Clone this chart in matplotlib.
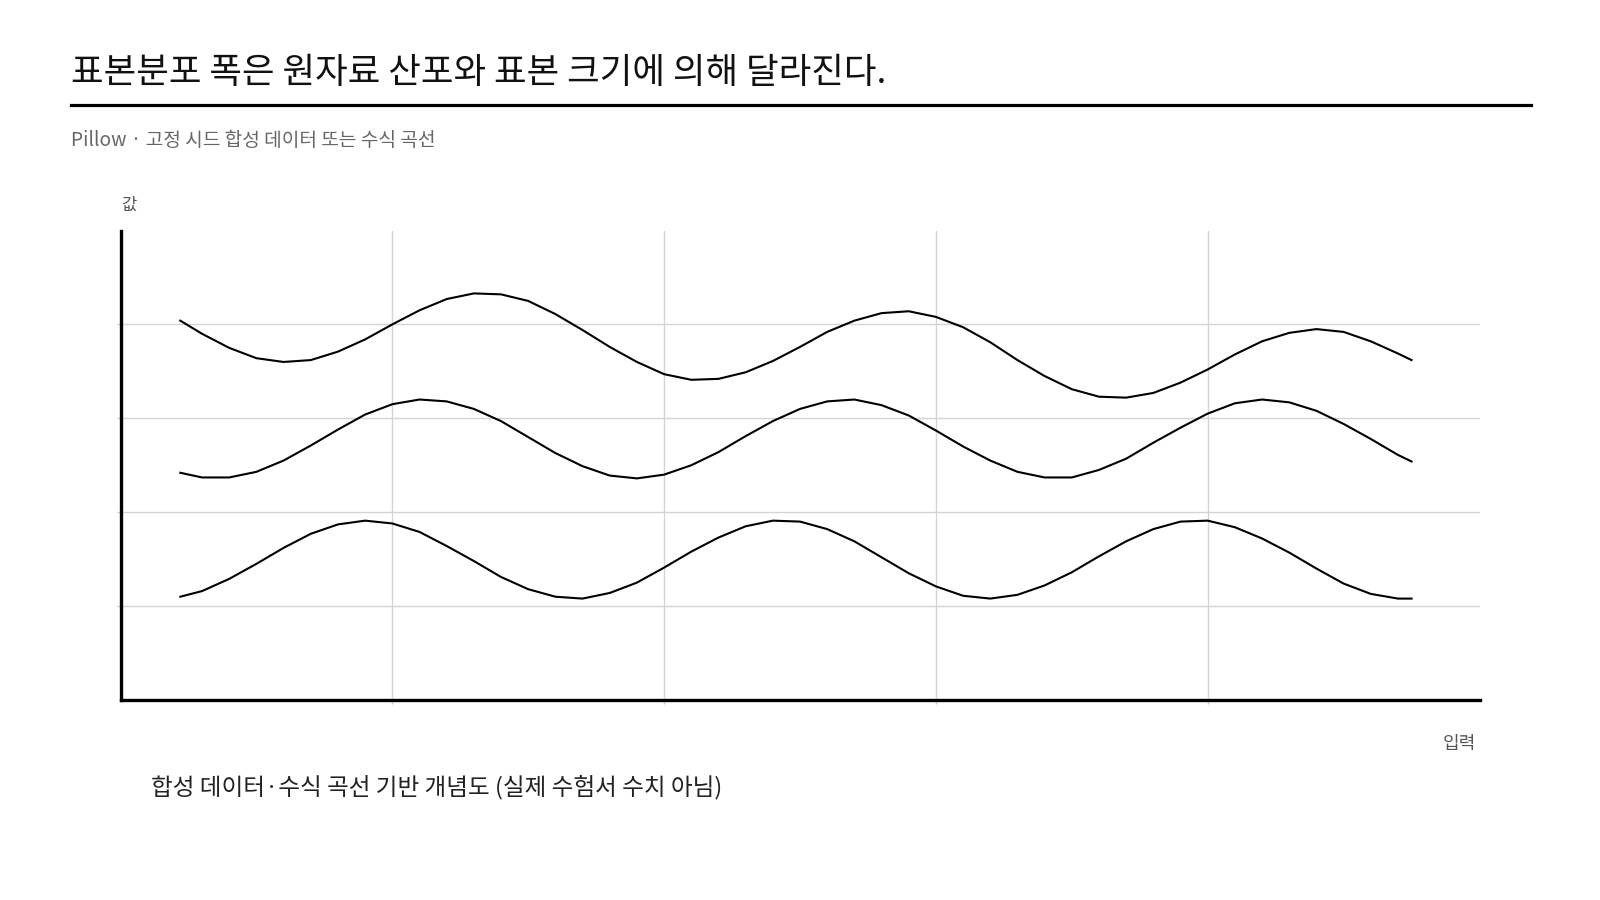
import matplotlib
matplotlib.use('Agg')
from matplotlib import pyplot as plt
from matplotlib.lines import Line2D

plt.rcParams['font.family'] = ['Noto Sans CJK KR', 'DejaVu Sans']

title = '표본분포 폭은 원자료 산포와 표본 크기에 의해 달라진다.'
subtitle = 'Pillow · 고정 시드 합성 데이터 또는 수식 곡선'
y_label = '값'
x_label = '입력'
caption = '합성 데이터·수식 곡선 기반 개념도 (실제 수험서 수치 아님)'

x_vals = [0.22, 0.3, 0.4, 0.5, 0.6, 0.7, 0.8, 0.9, 1.0, 1.1, 1.2, 1.3, 1.4, 1.5, 1.6,
          1.7, 1.8, 1.9, 2.0, 2.1, 2.2, 2.3, 2.4, 2.5, 2.6, 2.7, 2.8, 2.9, 3.0, 3.1,
          3.2, 3.3, 3.4, 3.5, 3.6, 3.7, 3.8, 3.9, 4.0, 4.1, 4.2, 4.3, 4.4, 4.5, 4.6,
          4.7, 4.75]

top_curve = [4.04, 3.90, 3.75, 3.64, 3.60, 3.62, 3.71, 3.84, 4.00, 4.15, 4.27, 4.33,
             4.32, 4.25, 4.11, 3.94, 3.76, 3.60, 3.47, 3.41, 3.42, 3.49, 3.61, 3.76,
             3.92, 4.04, 4.12, 4.14, 4.08, 3.97, 3.81, 3.62, 3.45, 3.31, 3.23, 3.22,
             3.27, 3.38, 3.52, 3.68, 3.82, 3.91, 3.95, 3.92, 3.82, 3.69, 3.62]

mid_curve = [2.42, 2.37, 2.37, 2.43, 2.55, 2.71, 2.88, 3.04, 3.15, 3.20, 3.18, 3.10,
             2.97, 2.80, 2.63, 2.49, 2.39, 2.36, 2.40, 2.50, 2.64, 2.81, 2.97, 3.10,
             3.18, 3.20, 3.14, 3.03, 2.87, 2.70, 2.55, 2.43, 2.37, 2.37, 2.45, 2.57,
             2.74, 2.90, 3.05, 3.16, 3.20, 3.17, 3.08, 2.94, 2.78, 2.61, 2.54]

low_curve = [1.10, 1.16, 1.29, 1.45, 1.62, 1.77, 1.87, 1.91, 1.88, 1.79, 1.64, 1.48,
             1.31, 1.18, 1.10, 1.08, 1.14, 1.25, 1.41, 1.58, 1.73, 1.85, 1.91, 1.90,
             1.82, 1.69, 1.52, 1.35, 1.21, 1.11, 1.08, 1.12, 1.22, 1.36, 1.53, 1.69,
             1.82, 1.90, 1.91, 1.84, 1.72, 1.57, 1.40, 1.24, 1.13, 1.08, 1.08]

grid_ticks = [1, 2, 3, 4]

W, H = 1600, 900


def fx(px):
    return px / W


def fy(py):
    return 1 - py / H


fig = plt.figure(figsize=(16, 9), dpi=100)
fig.patch.set_facecolor('white')

ax = fig.add_axes([fx(120.5), fy(700), fx(1479.5 - 120.5), (700 - 230.5) / H])
ax.set_xlim(0, 5)
ax.set_ylim(0, 5)
ax.set_xticks(grid_ticks)
ax.set_yticks(grid_ticks)
ax.set_xticklabels([])
ax.set_yticklabels([])
ax.tick_params(length=3, width=1, color='#d0d0d0')
ax.grid(True, color='#d4d4d4', linewidth=1)
ax.set_axisbelow(True)
for side in ('top', 'right'):
    ax.spines[side].set_visible(False)
for side in ('left', 'bottom'):
    ax.spines[side].set_linewidth(2.4)
    ax.spines[side].set_color('black')

for curve in (top_curve, mid_curve, low_curve):
    ax.plot(x_vals, curve, color='black', linewidth=1.5, solid_joinstyle='round')

fig.text(fx(71), fy(73), title, fontsize=25.5, color='#111111', va='center', ha='left',
         fontweight='light')
fig.add_artist(Line2D([fx(71), fx(1531)], [fy(105), fy(105)], color='black', linewidth=2.3))
fig.text(fx(71), fy(140), subtitle, fontsize=13.8, color='#666666', va='center', ha='left',
         fontweight='light')
fig.text(fx(121), fy(205), y_label, fontsize=12, color='#555555', va='center', ha='left',
         fontweight='light')
fig.text(fx(1476), fy(744), x_label, fontsize=13, color='#555555', va='center', ha='right',
         fontweight='light')
fig.text(fx(151), fy(787), caption, fontsize=17, color='#222222', va='center', ha='left',
         fontweight='light')

fig.savefig('out.png', dpi=100, facecolor='white')
